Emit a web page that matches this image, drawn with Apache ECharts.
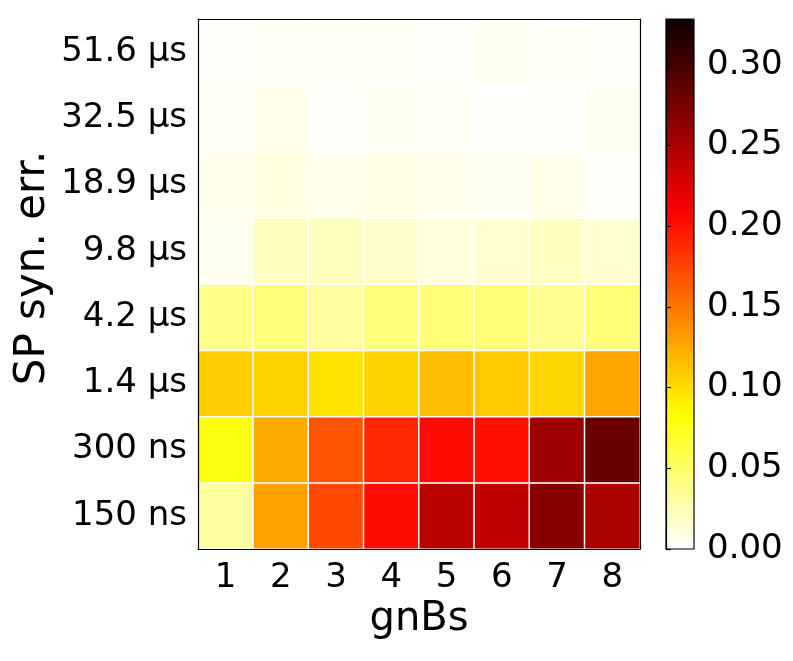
<!DOCTYPE html>
<html>
<head>
<meta charset="utf-8">
<script src="https://cdn.jsdelivr.net/npm/echarts@6/dist/echarts.min.js"></script>
<style>
  html, body { margin: 0; padding: 0; background: #fff; }
  #chart { width: 793px; height: 661px; }
</style>
</head>
<body>
<div id="chart"></div>
<script>
  // x categories (gnBs) and y categories, bottom row first
  const gnbs = ['1', '2', '3', '4', '5', '6', '7', '8'];
  const synErr = ['150 ns', '300 ns', '1.4 µs', '4.2 µs', '9.8 µs', '18.9 µs', '32.5 µs', '51.6 µs'];

  // one array per row, values for gnBs 1..8
  const row150ns = [0.031, 0.130, 0.173, 0.203, 0.242, 0.240, 0.267, 0.250];
  const row300ns = [0.078, 0.125, 0.167, 0.189, 0.204, 0.201, 0.256, 0.282];
  const row1_4us = [0.108, 0.106, 0.097, 0.105, 0.115, 0.110, 0.104, 0.128];
  const row4_2us = [0.039, 0.042, 0.031, 0.042, 0.044, 0.044, 0.036, 0.044];
  const row9_8us = [0.005, 0.021, 0.022, 0.017, 0.011, 0.015, 0.020, 0.015];
  const row18_9us = [0.006, 0.010, 0.006, 0.008, 0.006, 0.005, 0.007, 0.002];
  const row32_5us = [0.004, 0.006, 0.002, 0.005, 0.004, 0.001, 0.001, 0.005];
  const row51_6us = [0.002, 0.004, 0.004, 0.004, 0.002, 0.005, 0.003, 0.002];

  const rows = [row150ns, row300ns, row1_4us, row4_2us, row9_8us, row18_9us, row32_5us, row51_6us];

  const vMin = 0;
  const vMax = 0.3285;
  const cbTicks = [0, 0.05, 0.10, 0.15, 0.20, 0.25, 0.30];

  // matplotlib "hot" reversed
  function hotR(x) {
    let t = 1 - x;
    let r = t < 0.365079 ? 0.0416 + (1 - 0.0416) * t / 0.365079 : 1;
    let g = t < 0.365079 ? 0 : (t < 0.746032 ? (t - 0.365079) / (0.746032 - 0.365079) : 1);
    let b = t < 0.746032 ? 0 : (t - 0.746032) / (1 - 0.746032);
    let h = v => Math.round(Math.min(1, Math.max(0, v)) * 255);
    return 'rgb(' + h(r) + ',' + h(g) + ',' + h(b) + ')';
  }
  const cmap = [];
  for (let i = 0; i <= 64; i++) cmap.push(hotR(i / 64));

  const data = [];
  rows.forEach((row, yi) => {
    row.forEach((v, xi) => data.push([xi, yi, v]));
  });

  const font = 'DejaVu Sans';
  const black = '#000';

  let chart = echarts.init(document.getElementById('chart'), null, { renderer: 'canvas' });
  chart.setOption({
    backgroundColor: '#fff',
    animation: false,
    grid: [
      { left: 198, top: 19, width: 442, height: 530 },
      { left: 666, top: 19, width: 28, height: 530 }
    ],
    xAxis: [
      {
        type: 'category', gridIndex: 0, data: gnbs, position: 'bottom', z: 10,
        axisLine: { lineStyle: { color: black, width: 1.2 } },
        axisTick: { alignWithLabel: true, length: 5, lineStyle: { color: black, width: 1.2 } },
        axisLabel: { color: black, fontSize: 34, fontFamily: font, margin: 29, verticalAlign: 'middle' },
        splitLine: { show: false }
      },
      {
        type: 'category', gridIndex: 0, data: gnbs, position: 'top', z: 10,
        axisLine: { lineStyle: { color: black, width: 1.2 } },
        axisTick: { show: false }, axisLabel: { show: false }
      },
      { type: 'value', gridIndex: 1, show: false, min: 0, max: 1 }
    ],
    yAxis: [
      {
        type: 'category', gridIndex: 0, data: synErr, position: 'left', z: 10,
        axisLine: { lineStyle: { color: black, width: 1.2 } },
        axisTick: { alignWithLabel: true, length: 5, lineStyle: { color: black, width: 1.2 } },
        axisLabel: { color: black, fontSize: 34, fontFamily: font, margin: 11 },
        splitLine: { show: false }
      },
      {
        type: 'category', gridIndex: 0, data: synErr, position: 'right', z: 10,
        axisLine: { lineStyle: { color: black, width: 1.2 } },
        axisTick: { show: false }, axisLabel: { show: false }
      },
      {
        type: 'value', gridIndex: 1, position: 'right', min: vMin, max: vMax, z: 10,
        axisLine: { show: true, lineStyle: { color: black, width: 1.2 } },
        axisTick: { show: true, length: 5, customValues: cbTicks, lineStyle: { color: black, width: 1.2 } },
        axisLabel: {
          color: black, fontSize: 34, fontFamily: font, margin: 13,
          customValues: cbTicks,
          formatter: v => v.toFixed(2)
        },
        splitLine: { show: false }
      }
    ],
    visualMap: {
      type: 'continuous',
      seriesIndex: 0,
      min: vMin,
      max: vMax,
      calculable: false,
      orient: 'vertical',
      left: 666,
      top: 19,
      padding: 0,
      itemWidth: 28,
      itemHeight: 530,
      inRange: { color: cmap },
      z: 4
    },
    graphic: [
      {
        type: 'rect', z: 100, silent: true,
        shape: { x: 666, y: 19, width: 28, height: 530 },
        style: { fill: 'none', stroke: black, lineWidth: 1.2 }
      },
      {
        type: 'text', z: 100, x: 419, y: 620,
        style: { text: 'gnBs', fill: black, fontSize: 40, fontFamily: font, align: 'center', verticalAlign: 'middle' }
      },
      {
        type: 'text', z: 100, x: 33, y: 268, rotation: Math.PI / 2,
        style: { text: 'SP syn. err.', fill: black, fontSize: 42, fontFamily: font, align: 'center', verticalAlign: 'middle' }
      }
    ],
    series: [
      {
        type: 'heatmap',
        xAxisIndex: 0,
        yAxisIndex: 0,
        data: data,
        itemStyle: { borderColor: '#fff', borderWidth: 1.5 },
        emphasis: { disabled: true }
      }
    ]
  });
</script>
</body>
</html>
